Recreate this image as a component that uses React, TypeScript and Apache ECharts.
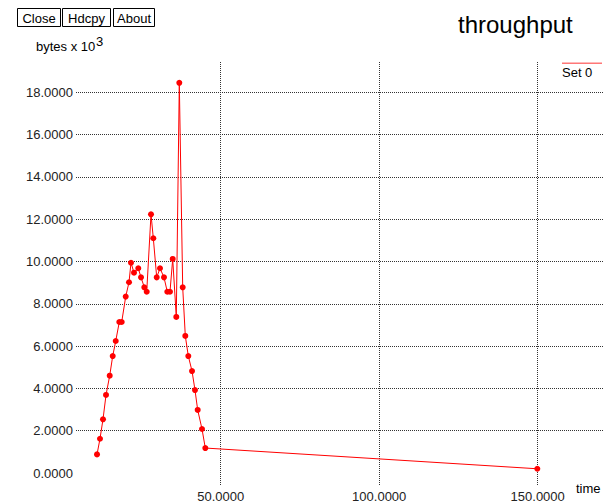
import React, { useEffect, useRef } from "react";
import * as echarts from "echarts";

const times = [
  10.98, 11.92, 12.87, 13.82, 14.98, 15.93, 16.88, 18.01, 18.77, 20.03,
  21.07, 21.7, 22.65, 24.0, 24.86, 25.9, 26.66, 28.01, 28.74, 29.81,
  30.85, 32.11, 33.15, 34.0, 34.86, 35.99, 36.94, 38.01, 38.83, 39.78,
  40.95, 41.89, 42.74, 44.1, 45.14, 149.87,
];
const values = [
  0.88, 1.62, 2.54, 3.69, 4.6, 5.53, 6.24, 7.14, 7.14, 8.34,
  9.02, 9.94, 9.47, 9.68, 9.25, 8.78, 8.57, 12.23, 11.1, 9.25,
  9.68, 9.25, 8.57, 8.57, 10.12, 7.38, 18.45, 8.78, 6.48, 5.53,
  4.82, 3.92, 2.98, 2.08, 1.18, 0.2,
];
const seriesName = "Set 0";
const titleText = "throughput";
const yUnitText = "bytes x 10";
const yUnitExp = "3";
const xName = "time";
const buttons = ["Close", "Hdcpy", "About"];

export default function App() {
  const ref = useRef<HTMLDivElement>(null);
  useEffect(() => {
    document.body.style.margin = "0";
    const chart = echarts.init(ref.current!, null, { renderer: "svg" });
    const font = "'Liberation Sans', Arial, sans-serif";
    const X_MIN = 4.35;
    const X_MAX = 170.6;
    const red = "#ff0000";
    const gridColor = "#333";
    const btnX = [17, 62, 113];
    const btnW = [43, 48, 41];
    chart.setOption({
      animation: false,
      title: {
        text: titleText,
        left: 458,
        top: 12,
        padding: 0,
        textStyle: { fontSize: 24, fontWeight: "normal", color: "#000", fontFamily: font },
      },
      grid: [
        { left: 76, right: 7, top: 92.3, bottom: 30 },
        { left: 76, right: 7, top: 62, bottom: 16 },
      ],
      xAxis: [
        { gridIndex: 0, type: "value", min: X_MIN, max: X_MAX, show: false },
        {
          gridIndex: 1,
          type: "value",
          min: X_MIN,
          max: X_MAX,
          splitNumber: 3,
          axisLine: { show: false },
          axisTick: { show: false },
          axisLabel: {
            formatter: (v: number) => v.toFixed(4),
            showMinLabel: false,
            showMaxLabel: false,
            margin: 4,
            fontSize: 13,
            color: "#222",
            fontFamily: font,
          },
          splitLine: {
            show: true,
            showMinLine: false,
            showMaxLine: false,
            lineStyle: { type: "dotted", color: gridColor, width: 1 },
          },
        },
      ],
      yAxis: [
        {
          gridIndex: 0,
          type: "value",
          min: 0,
          max: 18,
          interval: 2,
          axisLine: { show: false },
          axisTick: { show: false },
          axisLabel: {
            formatter: (v: number) => v.toFixed(4),
            margin: 3,
            fontSize: 13,
            color: "#222",
            fontFamily: font,
          },
          splitLine: {
            show: true,
            showMinLine: false,
            lineStyle: { type: "dotted", color: gridColor, width: 1 },
          },
        },
        { gridIndex: 1, type: "value", min: 0, max: 1, show: false },
      ],
      series: [
        {
          name: seriesName,
          type: "line",
          xAxisIndex: 0,
          yAxisIndex: 0,
          data: times.map((t, i) => [t, values[i]]),
          symbol: "circle",
          symbolSize: 6,
          clip: false,
          lineStyle: { color: red, width: 1 },
          itemStyle: { color: red },
        },
      ],
      graphic: [
        ...buttons.flatMap((b, i) => [
          {
            type: "rect",
            shape: { x: btnX[i] + 0.5, y: 8.5, width: btnW[i], height: 18 },
            style: { fill: "#fff", stroke: "#000", lineWidth: 1 },
          },
          {
            type: "text",
            x: btnX[i] + 0.5 + btnW[i] / 2,
            y: 18,
            style: {
              text: b,
              align: "center",
              verticalAlign: "middle",
              fontSize: 13,
              fontFamily: font,
              fill: "#000",
            },
          },
        ]),
        {
          type: "text",
          x: 36,
          y: 46,
          style: { text: yUnitText, verticalAlign: "middle", fontSize: 13, fontFamily: font, fill: "#000" },
        },
        {
          type: "text",
          x: 96,
          y: 41,
          style: { text: yUnitExp, verticalAlign: "middle", fontSize: 13, fontFamily: font, fill: "#000" },
        },
        {
          type: "text",
          x: 576,
          y: 488,
          style: { text: xName, verticalAlign: "middle", fontSize: 13, fontFamily: font, fill: "#000" },
        },
        {
          type: "rect",
          z: 100,
          shape: { x: 562, y: 62.5, width: 40, height: 1.5 },
          style: { fill: "#ff7777" },
        },
        {
          type: "text",
          x: 562,
          y: 72,
          style: { text: seriesName, verticalAlign: "middle", fontSize: 13, fontFamily: font, fill: "#000" },
        },
      ],
    });
    return () => chart.dispose();
  }, []);
  return <div ref={ref} style={{ position: "absolute", left: 0, top: 0, width: 610, height: 503 }} />;
}
